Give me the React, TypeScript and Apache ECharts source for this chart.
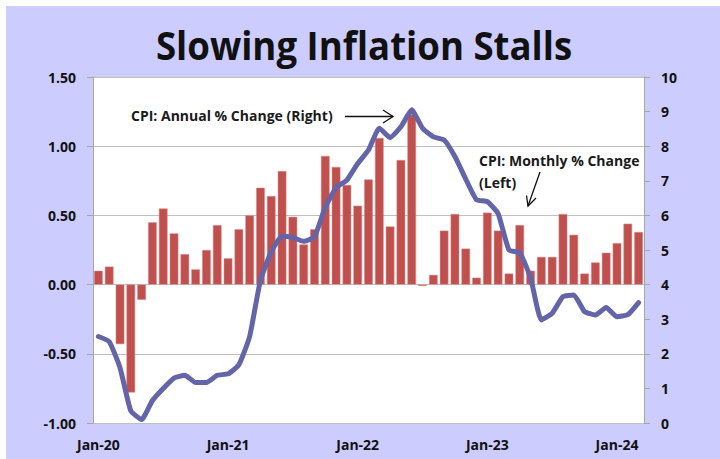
import React, { useEffect, useRef } from "react";
import * as echarts from "echarts";

const monthNames = ["Jan", "Feb", "Mar", "Apr", "May", "Jun", "Jul", "Aug", "Sep", "Oct", "Nov", "Dec"];
const years = ["20", "21", "22", "23", "24"];
const categories: string[] = [];
years.forEach((y) => monthNames.forEach((m) => categories.push(`${m}-${y}`)));
categories.length = 51; // Jan-20 .. Mar-24

const monthlyChange = [
  0.10, 0.13, -0.43, -0.78, -0.11, 0.45, 0.55, 0.37, 0.22, 0.11, 0.25, 0.43,
  0.19, 0.40, 0.50, 0.70, 0.64, 0.82, 0.49, 0.29, 0.40, 0.93, 0.85, 0.72,
  0.57, 0.76, 1.06, 0.42, 0.90, 1.23, -0.01, 0.07, 0.39, 0.51, 0.26, 0.05,
  0.52, 0.39, 0.08, 0.43, 0.10, 0.20, 0.20, 0.51, 0.36, 0.08, 0.16, 0.23,
  0.30, 0.44, 0.38,
];

const annualChange = [
  2.5, 2.35, 1.6, 0.35, 0.1, 0.65, 1.0, 1.3, 1.38, 1.17, 1.17, 1.38,
  1.42, 1.68, 2.5, 4.13, 4.95, 5.4, 5.36, 5.25, 5.38, 6.24, 6.8, 7.02,
  7.5, 7.89, 8.52, 8.25, 8.56, 9.05, 8.52, 8.27, 8.18, 7.7, 7.05,
  6.45, 6.4, 6.05, 5.0, 4.92, 4.2, 2.98, 3.17, 3.65, 3.7, 3.22, 3.12,
  3.34, 3.07, 3.13, 3.48,
];

const leftTicks = { min: -1, max: 1.5, interval: 0.5 };
const rightTicks = { min: 0, max: 10, interval: 1 };

const OX = 6;
const OY = 6;

export default function App() {
  const ref = useRef<HTMLDivElement>(null);
  useEffect(() => {
    if (!ref.current) return;
    const chart = echarts.init(ref.current, undefined, { renderer: "svg" });
    const labelFont = { fontFamily: "'Open Sans', sans-serif", fontWeight: "bold" as const, fontSize: 14, color: "#111" };
    const annFont = { fontFamily: "'Open Sans', sans-serif", fontWeight: "bold", fontSize: 14, fill: "#1a1a1a" };
    const lineStyle = { stroke: "#111", lineWidth: 1.3 };
    chart.setOption({
      animation: false,
      backgroundColor: "#CCCCFF",
      grid: {
        left: 93 - OX,
        right: 720 - 644,
        top: 77 - OY,
        bottom: 459 - 423,
        show: true,
        backgroundColor: "#fff",
        borderWidth: 0,
      },
      xAxis: {
        type: "category",
        data: categories,
        boundaryGap: true,
        axisLine: { show: false },
        axisTick: { show: false },
        axisLabel: { ...labelFont, interval: 11, margin: 14 },
        splitLine: { show: false },
      },
      yAxis: [
        {
          type: "value",
          ...leftTicks,
          position: "left",
          axisLine: { show: true, lineStyle: { color: "#A6A6A6" } },
          axisTick: { show: true, length: 6, lineStyle: { color: "#A6A6A6" } },
          axisLabel: { ...labelFont, margin: 17, formatter: (v: number) => v.toFixed(2) },
          splitLine: { show: true, lineStyle: { color: "#C0C0C0", width: 1 } },
        },
        {
          type: "value",
          ...rightTicks,
          position: "right",
          axisLine: { show: true, lineStyle: { color: "#A6A6A6" } },
          axisTick: { show: true, length: 6, lineStyle: { color: "#A6A6A6" } },
          axisLabel: { ...labelFont, margin: 17 },
          splitLine: { show: false },
        },
      ],
      series: [
        {
          type: "bar",
          data: monthlyChange,
          yAxisIndex: 0,
          barCategoryGap: "20%",
          itemStyle: { color: "#C0504D", borderColor: "#D98F8D", borderWidth: 0.5 },
        },
        {
          type: "line",
          data: annualChange,
          yAxisIndex: 1,
          symbol: "none",
          smooth: 0.15,
          lineStyle: { color: "#6464A8", width: 5, cap: "round", join: "round" },
          z: 3,
        },
      ],
      graphic: [
        {
          type: "text",
          x: 364 - OX,
          y: 44 - OY,
          scaleX: 0.915,
          style: {
            text: "Slowing Inflation Stalls",
            fontFamily: "'Open Sans', sans-serif",
            fontWeight: "bold",
            fontSize: 40,
            fill: "#111",
            textAlign: "center",
            verticalAlign: "middle",
          },
        },
        { type: "text", x: 131 - OX, y: 115 - OY, style: { ...annFont, text: "CPI: Annual % Change (Right)", verticalAlign: "middle" } },
        { type: "line", shape: { x1: 345 - OX, y1: 116.5 - OY, x2: 393 - OX, y2: 116.5 - OY }, style: lineStyle },
        { type: "polyline", shape: { points: [[383 - OX, 110 - OY], [393 - OX, 116.5 - OY], [383 - OX, 123 - OY]] }, style: { ...lineStyle, fill: "none" } },
        { type: "text", x: 479 - OX, y: 160 - OY, style: { ...annFont, text: "CPI: Monthly % Change", verticalAlign: "middle" } },
        { type: "text", x: 479 - OX, y: 182 - OY, style: { ...annFont, text: "(Left)", verticalAlign: "middle" } },
        { type: "line", shape: { x1: 540 - OX, y1: 172 - OY, x2: 528 - OX, y2: 206 - OY }, style: lineStyle },
        { type: "polyline", shape: { points: [[526.5 - OX, 195.5 - OY], [528 - OX, 206 - OY], [536 - OX, 198 - OY]] }, style: { ...lineStyle, fill: "none" } },
      ],
    });
    return () => chart.dispose();
  }, []);
  return (
    <div style={{ position: "absolute", left: 0, top: 0, width: 720, height: 459, background: "#fff" }}>
      <div ref={ref} style={{ position: "absolute", left: OX, top: OY, width: 720 - OX, height: 459 - OY }} />
    </div>
  );
}
